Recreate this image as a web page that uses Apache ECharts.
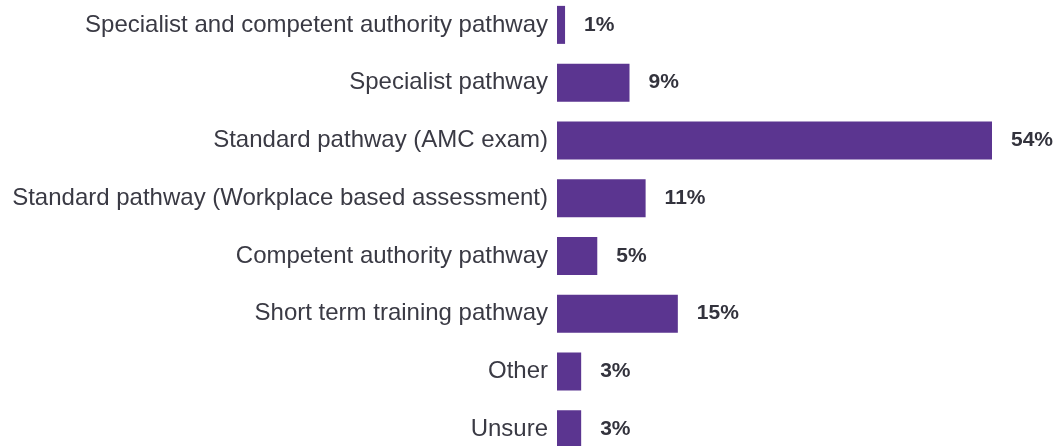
<!DOCTYPE html>
<html>
<head>
<meta charset="utf-8">
<style>
  html, body { margin: 0; padding: 0; background: #fff; }
  #chart { width: 1060px; height: 446px; }
</style>
<script src="https://cdn.jsdelivr.net/npm/echarts@6/dist/echarts.min.js"></script>
</head>
<body>
<div id="chart"></div>
<script>
// pathway shares, top to bottom
var categories = [
    'Specialist and competent authority pathway',
    'Specialist pathway',
    'Standard pathway (AMC exam)',
    'Standard pathway (Workplace based assessment)',
    'Competent authority pathway',
    'Short term training pathway',
    'Other',
    'Unsure'
];
var percents = [1, 9, 54, 11, 5, 15, 3, 3];

var myChart = echarts.init(document.getElementById('chart'));
var option = {
    animation: false,
    grid: {
        left: 557,
        width: 435,
        top: -4,
        height: 462,
        outerBoundsMode: 'none'
    },
    xAxis: {
        type: 'value',
        min: 0,
        max: 54,
        show: false
    },
    yAxis: {
        type: 'category',
        inverse: true,
        data: categories,
        axisLine: { show: false },
        axisTick: { show: false },
        axisLabel: {
            margin: 9,
            fontFamily: 'Liberation Sans, Arial, sans-serif',
            fontSize: 24,
            color: '#3a3a44'
        }
    },
    series: [
        {
            type: 'bar',
            data: percents,
            barWidth: 38,
            itemStyle: { color: '#5b3590' },
            label: {
                show: true,
                position: 'right',
                distance: 19,
                formatter: '{c}%',
                fontFamily: 'Liberation Sans, Arial, sans-serif',
                fontWeight: 'bold',
                fontSize: 21,
                color: '#33333d'
            }
        }
    ]
};
myChart.setOption(option);
</script>
</body>
</html>
